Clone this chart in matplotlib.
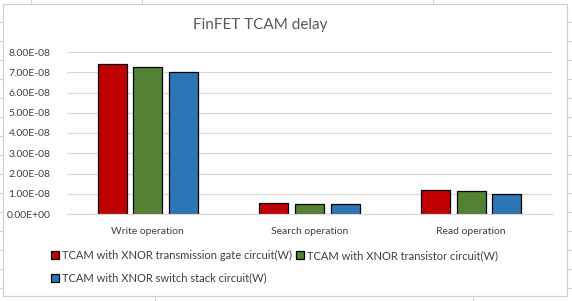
import matplotlib
matplotlib.use("Agg")
import matplotlib.pyplot as plt
from matplotlib.patches import Rectangle
from matplotlib.lines import Line2D
import numpy as np

categories = ["Write operation", "Search operation", "Read operation"]
series_names = ["TCAM with XNOR transmission gate circuit(W)",
                "TCAM with XNOR transistor circuit(W)",
                "TCAM with XNOR switch stack circuit(W)"]
tg_vals = [7.40e-08, 0.55e-08, 1.18e-08]
tr_vals = [7.25e-08, 0.50e-08, 1.13e-08]
ss_vals = [7.00e-08, 0.50e-08, 0.98e-08]
yticks = [0, 1e-8, 2e-8, 3e-8, 4e-8, 5e-8, 6e-8, 7e-8, 8e-8]
ytick_labels = ["0.00E+00", "1.00E-08", "2.00E-08", "3.00E-08", "4.00E-08",
                "5.00E-08", "6.00E-08", "7.00E-08", "8.00E-08"]

colors = ["#C00000", "#548235", "#2E75B6"]
plt.rcParams['font.family'] = ['Lato', 'DejaVu Sans']

W, H = 572, 301
fig = plt.figure(figsize=(W/100, H/100), dpi=100)
fig.patch.set_facecolor("white")

# Excel sheet cell lines outside the chart + chart border
grid_c = "#D4D4D4"
def fl(x0, y0, x1, y1, c=grid_c, lw=0.8):
    fig.add_artist(Line2D([x0/W, x1/W], [1-y0/H, 1-y1/H], color=c, lw=lw,
                          transform=fig.transFigure))
fl(31, 0, 31, 4); fl(142, 0, 142, 4); fl(433, 0, 433, 4)
fl(155, 296, 155, 301); fl(473, 296, 473, 301)
for yy in [22, 41, 60, 79, 98, 117, 136, 155, 174, 193, 212, 231, 250, 269, 288]:
    fl(567, yy, 572, yy)
for yy in [22, 41, 60, 79, 98, 117, 136, 155, 174, 193, 212, 231, 250, 269, 288]:
    fl(0, yy, 3, yy)
fig.add_artist(Rectangle((3/W, 1-296/H), 564/W, 292/H, fill=False,
                         edgecolor="#D0D0D0", lw=0.9, transform=fig.transFigure))

ax = fig.add_axes([67/W, 1-214/H, 485/W, 162/H])
x = np.arange(len(categories))
bw = 0.18
off = 0.22
for i, (vals, name) in enumerate(zip([tg_vals, tr_vals, ss_vals], series_names)):
    ax.bar(x + (i-1)*off, vals, width=bw, color=colors[i], edgecolor="black",
           linewidth=0.9, label=name, zorder=3)

ax.set_xlim(-0.5, 2.5)
ax.set_ylim(0, 8e-8)
ax.set_yticks(yticks)
ax.set_yticklabels(ytick_labels)
ax.set_xticks(x)
ax.set_xticklabels(categories)
ax.tick_params(axis='both', length=0, labelsize=7.5, colors="#404040")
ax.tick_params(axis='y', pad=12)
ax.tick_params(axis='x', pad=9)
ax.yaxis.grid(True, color="#D9D9D9", lw=0.9, zorder=0)
for s in ["top", "right", "left"]:
    ax.spines[s].set_visible(False)
ax.spines["bottom"].set_color("#D9D9D9")
ax.spines["bottom"].set_linewidth(0.9)
ax.spines["bottom"].set_zorder(4)

fig.text(260/W, 1-25/H, "FinFET TCAM delay", ha="center", va="center",
         fontsize=11, color="#595959")

h, l = ax.get_legend_handles_labels()
order = [0, 2, 1]
leg = fig.legend([h[i] for i in order], [l[i] for i in order], ncol=2,
                 loc="upper left", bbox_to_anchor=(51/W, 1-250/H),
                 frameon=False, fontsize=8, handlelength=0.7, handleheight=0.7,
                 handletextpad=0.3, columnspacing=0.35, labelspacing=1.05,
                 borderpad=0, borderaxespad=0)
for t in leg.get_texts():
    t.set_color("#404040")

fig.savefig("out.png", dpi=100)
